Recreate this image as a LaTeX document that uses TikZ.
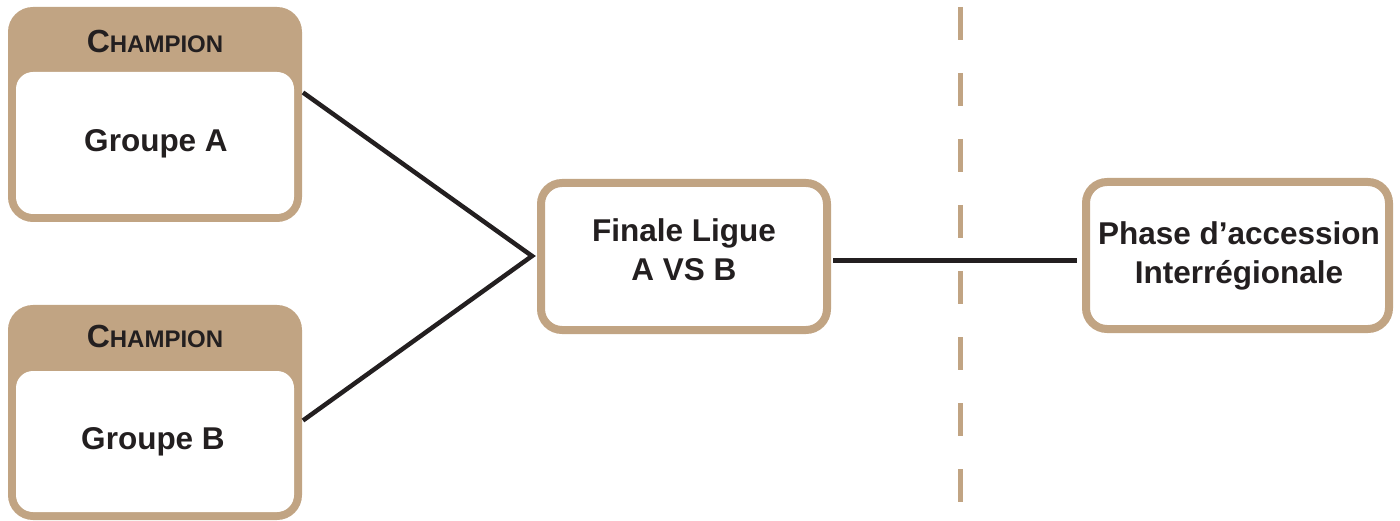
\documentclass[tikz,border=0pt]{standalone}
\usepackage{fontspec}
\setmainfont{Liberation Sans}
\usetikzlibrary{calc}

\definecolor{tan}{RGB}{193,164,131}
\definecolor{ink}{RGB}{35,31,32}

\tikzset{
  roundbox/.style={draw=tan, line width=8pt, rounded corners=21pt, fill=white,
    inner sep=0pt, outer sep=0pt, minimum width=#1},
  champbox/.style={roundbox=286pt, fill=tan, minimum height=207pt},
  label/.style={text=ink, font=\bfseries\fontsize{31.5}{38.3}\selectfont, inner sep=0pt, align=center},
  wire/.style={draw=ink, line width=4.5pt, line join=miter},
  divider/.style={draw=tan, line width=5pt, dash pattern=on 33pt off 33pt},
}

\newcommand{\champtitle}{{\fontsize{32}{38}\selectfont C}{\fontsize{24}{38}\selectfont HAMPION}}

\begin{document}
\begin{tikzpicture}[x=1pt, y=-1pt]
  \useasboundingbox (0,0) rectangle (1400,521);

  % --- group A card
  \node[champbox] (ga) at (155,114.5) {};
  \fill[white, rounded corners=17pt] ($(ga.south west)+(4,-4)$) rectangle ($(ga.north east)+(-4,61)$);
  \node[label, anchor=base] (gaHead) at (155,52.5) {\champtitle};
  \node[label, anchor=base] (gaName) at (156,151.5) {Groupe A};

  % --- group B card
  \node[champbox] (gb) at (155,412.5) {};
  \fill[white, rounded corners=17pt] ($(gb.south west)+(4,-4)$) rectangle ($(gb.north east)+(-4,62)$);
  \node[label, anchor=base] (gbHead) at (155,347.5) {\champtitle};
  \node[label, anchor=base] (gbName) at (153,449.5) {Groupe B};

  % --- league final
  \node[roundbox=286pt, minimum height=147pt] (fin) at (684,256.5) {};
  \node[label] (finText) at (684,249.7) {Finale Ligue\\A VS B};

  % --- interregional phase
  \node[roundbox=303pt, minimum height=147pt] (ph) at (1237.5,255.5) {};
  \node[label] (phText) at (1239,255.8) {Phase d’accession\\Interrégionale};

  % --- connectors
  \coordinate (j) at (532,256);
  \draw[wire] ($(ga.east)+(5,-22)$) -- (j) -- ($(gb.east)+(5,8)$);
  \coordinate (l1) at ($(fin.east)+(6,4)$);
  \draw[wire, shorten >=9pt] (l1) -- (l1 -| ph.west);

  % --- vertical separator
  \coordinate (d1) at (960,7);
  \coordinate (d2) at (960,502.5);
  \draw[divider] (d1) -- (d2);
\end{tikzpicture}
\end{document}
